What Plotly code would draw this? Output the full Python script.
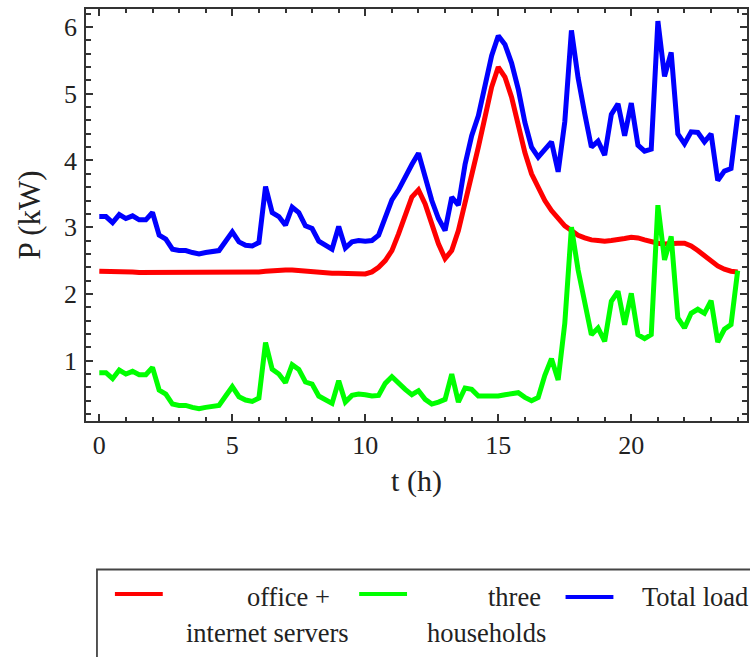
import plotly.graph_objects as go

# ---- data ----
hours = [i * 0.25 for i in range(97)]

office_servers = [
    2.34, 2.34, 2.34, 2.33, 2.33, 2.33, 2.32, 2.32, 2.32, 2.32, 2.32, 2.32,
    2.32, 2.32, 2.32, 2.32, 2.32, 2.32, 2.32, 2.32, 2.32, 2.32, 2.32, 2.33,
    2.33, 2.34, 2.35, 2.36, 2.36, 2.36, 2.35, 2.34, 2.33, 2.32, 2.32, 2.31,
    2.31, 2.31, 2.30, 2.30, 2.30, 2.33, 2.40, 2.50, 2.65, 2.90, 3.20, 3.45,
    3.56, 3.35, 3.05, 2.75, 2.53, 2.65, 2.95, 3.35, 3.80, 4.20, 4.65, 5.10,
    5.40, 5.25, 4.95, 4.55, 4.12, 3.80, 3.60, 3.40, 3.25, 3.12, 3.02, 2.95,
    2.88, 2.84, 2.81, 2.80, 2.79, 2.80, 2.81, 2.83, 2.85, 2.84, 2.81, 2.78,
    2.76, 2.75, 2.76, 2.76, 2.76, 2.72, 2.65, 2.57, 2.50, 2.42, 2.37, 2.34,
    2.33,
]

three_households = [
    0.82, 0.82, 0.73, 0.86, 0.80, 0.84, 0.79, 0.79, 0.90, 0.56, 0.50, 0.35,
    0.33, 0.33, 0.30, 0.28, 0.30, 0.32, 0.33, 0.47, 0.61, 0.46, 0.41, 0.39,
    0.44, 1.27, 0.87, 0.80, 0.67, 0.94, 0.87, 0.68, 0.65, 0.47, 0.42, 0.36,
    0.70, 0.38, 0.48, 0.50, 0.49, 0.47, 0.48, 0.66, 0.76, 0.66, 0.57, 0.49,
    0.55, 0.42, 0.35, 0.38, 0.42, 0.80, 0.38, 0.59, 0.57, 0.47, 0.47, 0.47,
    0.47, 0.49, 0.51, 0.52, 0.45, 0.40, 0.45, 0.78, 1.03, 0.71, 1.56, 3.00,
    2.36, 1.86, 1.39, 1.49, 1.29, 1.89, 2.04, 1.54, 2.01, 1.39, 1.33, 1.39,
    3.33, 2.51, 2.86, 1.64, 1.49, 1.71, 1.77, 1.71, 1.90, 1.28, 1.47, 1.54,
    2.35,
]

total_load = [
    3.16, 3.16, 3.07, 3.19, 3.13, 3.17, 3.11, 3.11, 3.22, 2.88, 2.82, 2.67,
    2.65, 2.65, 2.62, 2.60, 2.62, 2.64, 2.65, 2.79, 2.93, 2.78, 2.73, 2.72,
    2.77, 3.61, 3.22, 3.16, 3.03, 3.30, 3.22, 3.02, 2.98, 2.79, 2.74, 2.67,
    3.01, 2.69, 2.78, 2.80, 2.79, 2.80, 2.88, 3.16, 3.41, 3.56, 3.77, 3.94,
    4.11, 3.77, 3.40, 3.13, 2.95, 3.45, 3.33, 3.94, 4.37, 4.67, 5.12, 5.57,
    5.87, 5.74, 5.46, 5.07, 4.57, 4.20, 4.05, 4.18, 4.28, 3.83, 4.58, 5.95,
    5.24, 4.70, 4.20, 4.29, 4.08, 4.69, 4.85, 4.37, 4.86, 4.23, 4.14, 4.17,
    6.09, 5.26, 5.62, 4.40, 4.25, 4.43, 4.42, 4.28, 4.40, 3.70, 3.84, 3.88,
    4.68,
]

series_names = ["office +<br>internet servers", "three<br>households", "Total load"]
series_colors = ["#ff0000", "#00ff00", "#0000ff"]
x_ticks = [0, 5, 10, 15, 20]
y_ticks = [1, 2, 3, 4, 5, 6]

# ---- geometry ----
W, H = 750, 657
L, R, T, B = 86, 1, 9, 236
PW = W - L - R
PH = H - T - B


def px(xp):
    return (xp - L) / PW


def py(yp):
    return (H - B - yp) / PH


FONT = "Liberation Serif"
AX = "#333333"
TXT = "#222222"

fig = go.Figure()
for ys, name, col in zip([office_servers, three_households, total_load], series_names, series_colors):
    fig.add_trace(go.Scatter(x=hours, y=ys, mode="lines", name=name,
                             line=dict(color=col, width=5), showlegend=False))

axis_common = dict(
    showline=True, linecolor=AX, linewidth=1.5, mirror="allticks",
    ticks="inside", tickcolor=AX, tickwidth=1.5, ticklen=7,
    showgrid=False, zeroline=False,
    tickfont=dict(family=FONT, size=26, color=TXT),
)

fig.update_xaxes(
    range=[-0.5, 24.35], tickvals=x_ticks,
    minor=dict(dtick=1, tick0=0, ticks="inside", ticklen=4, tickcolor=AX, tickwidth=1.5),
    title=dict(text="t (h)", font=dict(family=FONT, size=30, color=TXT), standoff=11),
    ticklabelstandoff=0,
    **axis_common,
)
fig.update_yaxes(
    range=[0.096, 6.27], tickvals=y_ticks,
    minor=dict(dtick=0.2, tick0=0, ticks="inside", ticklen=5, tickcolor=AX, tickwidth=1.5),
    title=dict(text="P (kW)", font=dict(family=FONT, size=31, color=TXT), standoff=14),
    ticklabelstandoff=2,
    **axis_common,
)

shapes = [
    dict(type="rect", xref="paper", yref="paper", x0=px(97), x1=px(800), y0=py(569.5), y1=py(700),
         line=dict(color="#444", width=1.8), fillcolor="rgba(0,0,0,0)", layer="above"),
]
sample_pos = [(115, 163, 594), (360, 408, 594), (567, 615, 597)]
for (x0, x1, yy), col in zip(sample_pos, series_colors):
    shapes.append(dict(type="line", xref="paper", yref="paper", x0=px(x0), x1=px(x1),
                       y0=py(yy), y1=py(yy), line=dict(color=col, width=4)))

legend_texts = [
    ("office +", 289, 597, "center"),
    ("internet servers", 268, 633, "center"),
    ("three", 516, 597, "center"),
    ("households", 488, 633, "center"),
    ("Total load", 642, 597, "left"),
]
annotations = []
for txt, xx, yy, anc in legend_texts:
    annotations.append(dict(text=txt, xref="paper", yref="paper", x=px(xx), y=py(yy),
                            xanchor=anc, yanchor="middle", showarrow=False,
                            font=dict(family=FONT, size=26.5, color=TXT)))

fig.update_layout(
    width=W, height=H,
    margin=dict(l=L, r=R, t=T, b=B, pad=0),
    paper_bgcolor="white", plot_bgcolor="white",
    shapes=shapes, annotations=annotations,
    showlegend=False,
)

fig.write_html("out.html")
